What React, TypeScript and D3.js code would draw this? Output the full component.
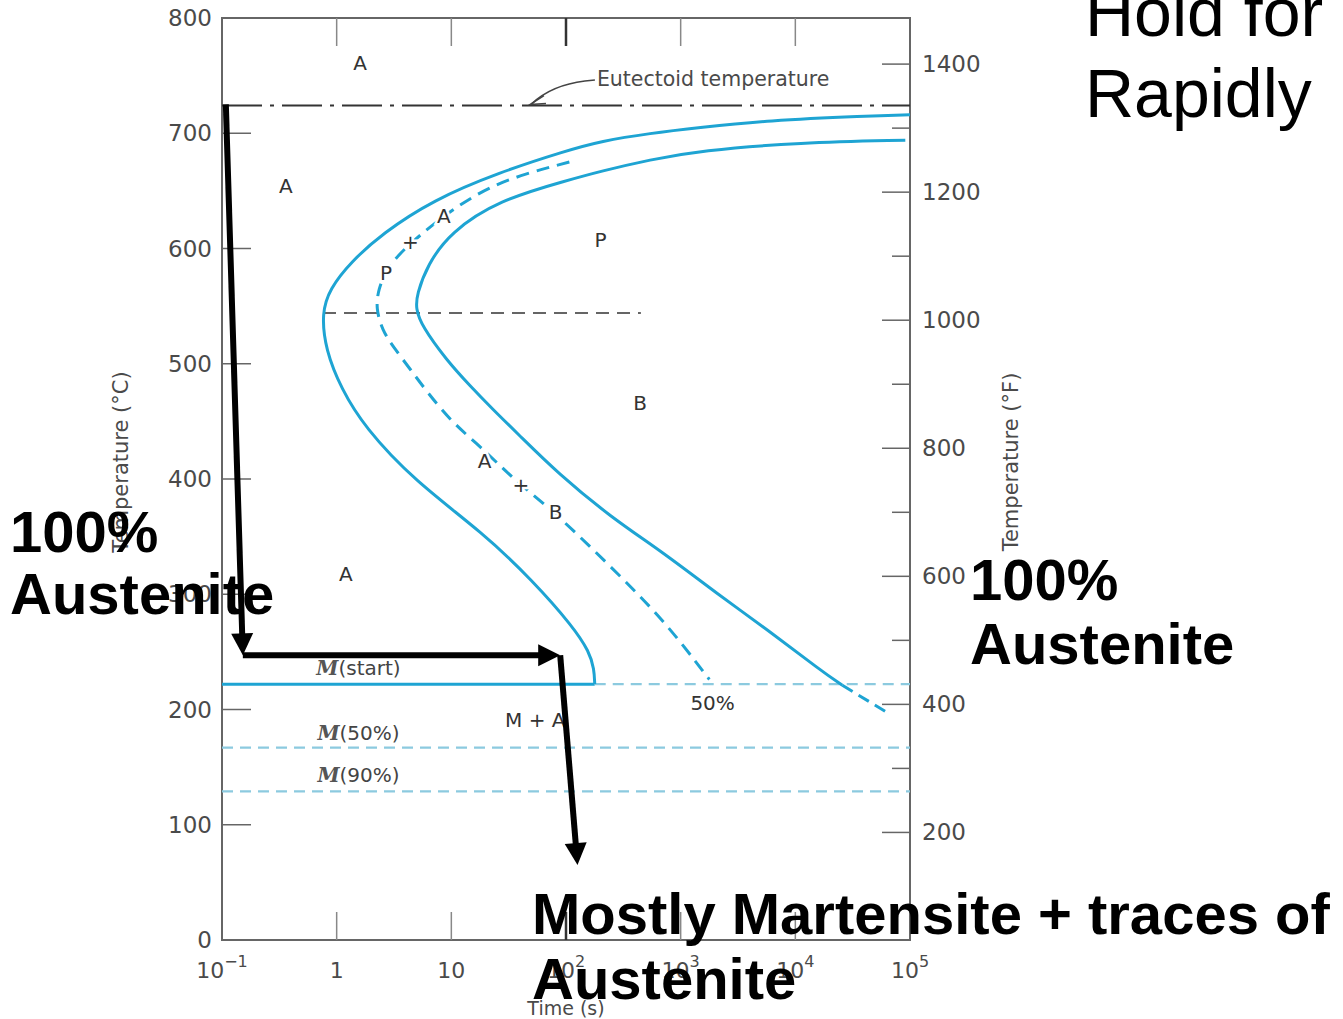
import React from "react";
import * as d3 from "d3";

// TTT diagram of a eutectoid steel with an annotated cooling path

const W = 1343;
const H = 1019;

const timeTicks = [0.1, 1, 10, 100, 1000, 10000, 100000];
const timeTickLabels = [
  ["10", "−1"],
  ["1", ""],
  ["10", ""],
  ["10", "2"],
  ["10", "3"],
  ["10", "4"],
  ["10", "5"],
];
const celsiusTicks = [0, 100, 200, 300, 400, 500, 600, 700, 800];
const fahrenheitMajor = [200, 400, 600, 800, 1000, 1200, 1400];
const fahrenheitMinor = [300, 500, 700, 900, 1100, 1300];

const eutectoidTemp = 724;
const msTemp = 222;
const m50Temp = 167;
const m90Temp = 129;
const noseTemp = 544;

// [time (s), temperature (°C)]
const startCurve: [number, number][] = [
  [100000, 716], [41700, 715], [5600, 711], [1480, 705], [540, 700],
  [200, 693], [102, 685], [26, 666], [6.9, 642], [2.5, 613], [1.32, 588],
  [0.87, 565], [0.74, 544], [0.8, 512], [1.1, 478], [1.75, 445],
  [4.7, 399], [19, 353], [51, 312], [115, 272], [160, 250],
  [176, 235], [178, 222],
];
const finishCurve: [number, number][] = [
  [91000, 694], [11000, 692], [1480, 685], [540, 677], [200, 667],
  [102, 659], [26, 642], [9.8, 614], [6.2, 586], [5.0, 560], [4.9, 548],
  [5.5, 533], [9.1, 503], [14.5, 481], [22.7, 461], [40, 437], [85, 405],
  [245, 367], [710, 336], [2040, 301], [5750, 269], [16600, 234],
  [25700, 221],
];
const finishExtension: [number, number][] = [[25700, 221], [61700, 198]];
const halfCurve: [number, number][] = [
  [107, 675], [26, 659], [9.8, 633], [4.4, 605], [2.75, 584], [2.3, 564],
  [2.2, 548], [2.5, 529], [3.1, 515], [4.4, 495], [6.2, 475],
  [10.2, 449], [16.6, 431], [26.3, 412], [40, 395], [80, 371],
  [245, 324], [710, 278], [1780, 226],
];
const noseLine: [number, number][] = [[0.76, noseTemp], [450, noseTemp]];
const coolingPath: [number, number][] = [
  [0.108, 725], [0.152, 247], [89, 247], [126, 65],
];

const regionLabels = [
  { text: "A", t: 1.6, T: 761, halo: false },
  { text: "A", t: 0.36, T: 654, halo: false },
  { text: "A", t: 1.2, T: 318, halo: false },
  { text: "P", t: 200, T: 607, halo: false },
  { text: "B", t: 442, T: 466, halo: false },
  { text: "P", t: 2.7, T: 579, halo: true },
  { text: "+", t: 4.4, T: 606, halo: true },
  { text: "A", t: 8.6, T: 628, halo: true },
  { text: "A", t: 19.5, T: 416, halo: true },
  { text: "+", t: 40.5, T: 395, halo: true },
  { text: "B", t: 81, T: 371, halo: true },
  { text: "M + A", t: 54, T: 191, halo: false },
  { text: "50%", t: 1900, T: 206, halo: false },
];
const mLabels = [
  { text: "(start)", T: 236 },
  { text: "(50%)", T: 180 },
  { text: "(90%)", T: 143 },
];

const blue = "#1ea4d3";
const lightBlue = "#8ccadf";
const axisGray = "#666";
const textGray = "#4a4a4a";
const tickFont = "DejaVu Sans, Verdana, sans-serif";
const bigFont = "Liberation Sans, Arial, Helvetica, sans-serif";

const x = d3.scaleLog().domain([0.1, 100000]).range([222, 910]);
const y = d3.scaleLinear().domain([0, 800]).range([940, 18]);
const yF = d3.scaleLinear().domain([32, 1472]).range([940, 18]);

const line = d3
  .line<[number, number]>()
  .x((d) => x(d[0]))
  .y((d) => y(d[1]))
  .curve(d3.curveBasis);
const straight = d3
  .line<[number, number]>()
  .x((d) => x(d[0]))
  .y((d) => y(d[1]));

function arrowSegment(a: [number, number], b: [number, number], key: number) {
  const x1 = x(a[0]), y1 = y(a[1]), x2 = x(b[0]), y2 = y(b[1]);
  const len = Math.hypot(x2 - x1, y2 - y1);
  const ux = (x2 - x1) / len, uy = (y2 - y1) / len;
  const head = 22, half = 11;
  const bx = x2 - ux * head, by = y2 - uy * head;
  const pts = [
    [x2, y2],
    [bx - uy * half, by + ux * half],
    [bx + uy * half, by - ux * half],
  ];
  return (
    <g key={key}>
      <line x1={x1} y1={y1} x2={bx + ux * 2} y2={by + uy * 2} stroke="#000" strokeWidth={6} />
      <polygon points={pts.map((p) => p.join(",")).join(" ")} fill="#000" />
    </g>
  );
}

const App = () => {
  const x0 = 222, x1 = 910, y0 = 940, y1 = 18;

  // eutectoid label leader
  const tipX = x(48.5), tipY = y(eutectoidTemp);
  const lx = x(186), ly = y(747);

  return (
    <svg
      width={W}
      height={H}
      style={{ position: "absolute", left: 0, top: 0, background: "#fff" }}
    >
      <rect width={W} height={H} fill="#fff" />

      {/* frame */}
      <rect x={x0} y={y1} width={x1 - x0} height={y0 - y1} fill="none" stroke={axisGray} strokeWidth={2} />

      {/* time ticks top and bottom */}
      {timeTicks.slice(1, -1).map((t, i) => (
        <g key={i} stroke={t === 100 ? "#333" : "#888"} strokeWidth={t === 100 ? 2.5 : 1.5}>
          <line x1={x(t)} x2={x(t)} y1={y1} y2={y1 + 28} />
          <line x1={x(t)} x2={x(t)} y1={y0} y2={y0 - 28} />
        </g>
      ))}
      {timeTicks.map((t, i) => (
        <text
          key={i}
          x={x(t)}
          y={978}
          textAnchor="middle"
          fontFamily={tickFont}
          fontSize={22}
          fill={textGray}
        >
          {timeTickLabels[i][0]}
          {timeTickLabels[i][1] && (
            <tspan dy={-11} fontSize={16}>
              {timeTickLabels[i][1]}
            </tspan>
          )}
        </text>
      ))}
      <text x={566} y={1015} textAnchor="middle" fontFamily={tickFont} fontSize={19} fill={textGray}>
        Time (s)
      </text>

      {/* celsius axis */}
      {celsiusTicks.slice(1, -1).map((c) => (
        <line key={c} x1={x0} x2={x0 + 29} y1={y(c)} y2={y(c)} stroke={axisGray} strokeWidth={1.5} />
      ))}
      {celsiusTicks.map((c) => (
        <text
          key={c}
          x={212}
          y={y(c)}
          textAnchor="end"
          dominantBaseline="central"
          fontFamily={tickFont}
          fontSize={23}
          fill={textGray}
        >
          {c}
        </text>
      ))}
      <text
        transform={`translate(128, 462) rotate(-90)`}
        textAnchor="middle"
        fontFamily={tickFont}
        fontSize={21}
        fill={textGray}
      >
        Temperature (°C)
      </text>

      {/* fahrenheit axis */}
      {fahrenheitMajor.map((f) => (
        <g key={f}>
          <line x1={x1 - 28} x2={x1} y1={yF(f)} y2={yF(f)} stroke={axisGray} strokeWidth={1.5} />
          <text
            x={922}
            y={yF(f)}
            dominantBaseline="central"
            fontFamily={tickFont}
            fontSize={23}
            fill={textGray}
          >
            {f}
          </text>
        </g>
      ))}
      {fahrenheitMinor.map((f) => (
        <line key={f} x1={x1 - 18} x2={x1} y1={yF(f)} y2={yF(f)} stroke={axisGray} strokeWidth={1.5} />
      ))}
      <text
        transform={`translate(1018, 462) rotate(-90)`}
        textAnchor="middle"
        fontFamily={tickFont}
        fontSize={21}
        fill={textGray}
      >
        Temperature (°F)
      </text>

      {/* eutectoid line */}
      <line
        x1={x0}
        x2={x1}
        y1={y(eutectoidTemp)}
        y2={y(eutectoidTemp)}
        stroke="#333"
        strokeWidth={2}
        strokeDasharray="40 8 4 8"
      />
      <path
        d={`M${lx - 2},${ly + 1} L${lx - 12},${ly + 2} Q${lx - 45},${ly + 6} ${tipX + 2},${tipY - 2}`}
        fill="none"
        stroke="#444"
        strokeWidth={1.5}
      />
      <path
        d={`M${tipX + 14},${tipY - 10} L${tipX},${tipY - 1} L${tipX + 16},${tipY - 2}`}
        fill="none"
        stroke="#444"
        strokeWidth={1.5}
      />
      <text x={lx} y={ly} dominantBaseline="central" fontFamily={tickFont} fontSize={20.5} fill={textGray}>
        Eutectoid temperature
      </text>

      {/* nose line */}
      <path d={straight(noseLine) || ""} stroke="#333" strokeWidth={1.5} strokeDasharray="13 8" fill="none" />

      {/* martensite lines */}
      <line x1={x0} x2={x(178)} y1={y(msTemp)} y2={y(msTemp)} stroke={blue} strokeWidth={3} />
      <line x1={x(178)} x2={x1} y1={y(msTemp)} y2={y(msTemp)} stroke={lightBlue} strokeWidth={2.2} strokeDasharray="11 7" />
      {[m50Temp, m90Temp].map((m) => (
        <line key={m} x1={x0} x2={x1} y1={y(m)} y2={y(m)} stroke={lightBlue} strokeWidth={2.2} strokeDasharray="11 7" />
      ))}

      {/* transformation curves */}
      <path d={line(startCurve) || ""} stroke={blue} strokeWidth={3} fill="none" />
      <path d={line(finishCurve) || ""} stroke={blue} strokeWidth={3} fill="none" />
      <path d={straight(finishExtension) || ""} stroke={blue} strokeWidth={3} strokeDasharray="12 7" fill="none" />
      <path d={line(halfCurve) || ""} stroke={blue} strokeWidth={3} strokeDasharray="13 8" fill="none" />

      {/* region labels */}
      {regionLabels.map((l, i) => (
        <text
          key={i}
          x={x(l.t)}
          y={y(l.T)}
          textAnchor="middle"
          dominantBaseline="central"
          fontFamily={tickFont}
          fontSize={20}
          fill="#333"
          stroke={l.halo ? "#fff" : "none"}
          strokeWidth={l.halo ? 5 : 0}
          style={{ paintOrder: "stroke" }}
        >
          {l.text}
        </text>
      ))}
      {mLabels.map((l, i) => (
        <text
          key={i}
          x={x(1.55)}
          y={y(l.T)}
          textAnchor="middle"
          dominantBaseline="central"
          fontFamily={tickFont}
          fontSize={20}
          fill="#444"
        >
          <tspan fontFamily="DejaVu Serif, serif" fontStyle="italic" fontWeight="bold" fill="#555">
            M
          </tspan>
          {l.text}
        </text>
      ))}

      {/* cooling path */}
      {coolingPath.slice(1).map((p, i) => arrowSegment(coolingPath[i], p, i))}

      {/* annotations */}
      <g fontFamily={bigFont} fontWeight="bold" fontSize={58} fill="#000">
        <text x={10} y={552}>100%</text>
        <text x={10} y={614}>Austenite</text>
        <text x={970} y={600}>100%</text>
        <text x={970} y={664}>Austenite</text>
        <text x={532} y={934}>Mostly Martensite + traces of</text>
        <text x={532} y={999}>Austenite</text>
      </g>
      <g fontFamily={bigFont} fontSize={68} fill="#000">
        <text x={1085} y={36}>Hold for</text>
        <text x={1085} y={117}>Rapidly</text>
      </g>
    </svg>
  );
};

export default App;
